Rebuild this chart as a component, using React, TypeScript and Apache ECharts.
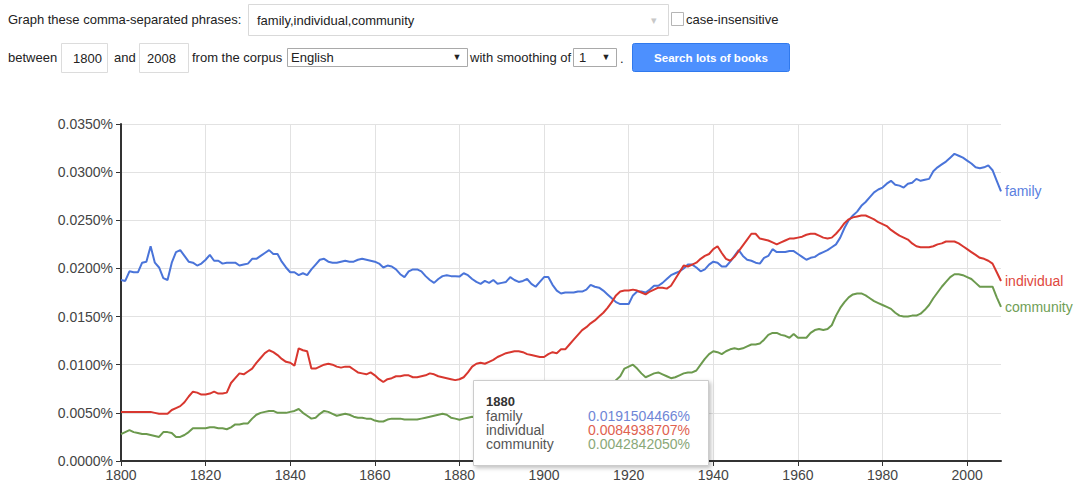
import React, { useEffect, useRef } from "react";
import * as echarts from "echarts";

const START_YEAR = 1800;

// yearly values (percent), 1800..2008
const familyValues = [
  0.0188, 0.0187, 0.0197, 0.0196, 0.0196, 0.0206, 0.0207, 0.0223, 0.0206, 0.0201,
  0.0190, 0.0188, 0.0206, 0.0217, 0.0219, 0.0213, 0.0207, 0.0206, 0.0203, 0.0205,
  0.0209, 0.0214, 0.0208, 0.0208, 0.0205, 0.0206, 0.0206, 0.0206, 0.0203, 0.0204,
  0.0205, 0.0210, 0.0210, 0.0213, 0.0216, 0.0219, 0.0215, 0.0215, 0.0207, 0.0201,
  0.0196, 0.0196, 0.0193, 0.0195, 0.0193, 0.0199, 0.0204, 0.0209, 0.0210, 0.0207,
  0.0206, 0.0206, 0.0207, 0.0208, 0.0207, 0.0207, 0.0209, 0.0210, 0.0209, 0.0208,
  0.0207, 0.0205, 0.0201, 0.0203, 0.0202, 0.0199, 0.0194, 0.0191, 0.0197, 0.0199,
  0.0199, 0.0197, 0.0192, 0.0188, 0.0185, 0.0189, 0.0192, 0.0193, 0.0192, 0.0192,
  0.01915, 0.0195, 0.0193, 0.0189, 0.0186, 0.0184, 0.0187, 0.0185, 0.0188, 0.0184,
  0.0185, 0.0186, 0.0191, 0.0188, 0.0186, 0.0187, 0.0189, 0.0184, 0.0181, 0.0186,
  0.0191, 0.0191, 0.0183, 0.0177, 0.0174, 0.0175, 0.0175, 0.0175, 0.0176, 0.0176,
  0.0178, 0.0183, 0.0181, 0.0180, 0.0177, 0.0173, 0.0169, 0.0165, 0.0163, 0.0163,
  0.0163, 0.0172, 0.0176, 0.0176, 0.0175, 0.0178, 0.0182, 0.0182, 0.0185, 0.0189,
  0.0193, 0.0195, 0.0197, 0.0200, 0.0204, 0.0204, 0.0201, 0.0197, 0.0199, 0.0204,
  0.0207, 0.0206, 0.0202, 0.0202, 0.0207, 0.0213, 0.0219, 0.0213, 0.0209, 0.0208,
  0.0206, 0.0205, 0.0211, 0.0213, 0.0220, 0.0217, 0.0217, 0.0217, 0.0218, 0.0218,
  0.0215, 0.0212, 0.0209, 0.0211, 0.0212, 0.0215, 0.0217, 0.0219, 0.0222, 0.0225,
  0.0232, 0.0242, 0.0250, 0.0255, 0.0259, 0.0265, 0.0269, 0.0274, 0.0279, 0.0282,
  0.0284, 0.0288, 0.0291, 0.0287, 0.0286, 0.0284, 0.0288, 0.0289, 0.0293, 0.0291,
  0.0292, 0.0293, 0.0301, 0.0305, 0.0308, 0.0311, 0.0315, 0.0319, 0.0317, 0.0315,
  0.0312, 0.0309, 0.0305, 0.0304, 0.0305, 0.0307, 0.0302, 0.0291, 0.0280,
];

const individualValues = [
  0.0051, 0.0051, 0.0051, 0.0051, 0.0051, 0.0051, 0.0051, 0.0051, 0.0050, 0.0049,
  0.0049, 0.0049, 0.0053, 0.0055, 0.0057, 0.0061, 0.0067, 0.0072, 0.0071, 0.0069,
  0.0069, 0.0070, 0.0072, 0.0070, 0.0070, 0.0071, 0.0081, 0.0086, 0.0091, 0.0090,
  0.0093, 0.0096, 0.0102, 0.0107, 0.0112, 0.0115, 0.0113, 0.0110, 0.0106, 0.0103,
  0.0102, 0.0099, 0.0117, 0.0115, 0.0114, 0.0096, 0.0096, 0.0098, 0.0100, 0.0101,
  0.0100, 0.0098, 0.0097, 0.0098, 0.0098, 0.0095, 0.0092, 0.0091, 0.0090, 0.0092,
  0.0089, 0.0085, 0.0082, 0.0085, 0.0086, 0.0088, 0.0088, 0.0089, 0.0089, 0.0087,
  0.0087, 0.0088, 0.0089, 0.0091, 0.0090, 0.0088, 0.0087, 0.0086, 0.0085, 0.0084,
  0.00849, 0.0087, 0.0092, 0.0098, 0.0101, 0.0102, 0.0101, 0.0103, 0.0105, 0.0108,
  0.0110, 0.0112, 0.0113, 0.0114, 0.0114, 0.0113, 0.0111, 0.0110, 0.0109, 0.0108,
  0.0108, 0.0111, 0.0113, 0.0112, 0.0116, 0.0116, 0.0121, 0.0126, 0.0131, 0.0136,
  0.0139, 0.0143, 0.0146, 0.0150, 0.0154, 0.0159, 0.0165, 0.0172, 0.0176, 0.0177,
  0.0177, 0.0178, 0.0177, 0.0175, 0.0173, 0.0176, 0.0178, 0.0180, 0.0180, 0.0179,
  0.0182, 0.0189, 0.0196, 0.0203, 0.0202, 0.0204, 0.0206, 0.0210, 0.0213, 0.0215,
  0.0220, 0.0223, 0.0216, 0.0210, 0.0208, 0.0212, 0.0218, 0.0224, 0.0230, 0.0236,
  0.0236, 0.0231, 0.0230, 0.0229, 0.0227, 0.0225, 0.0227, 0.0229, 0.0231, 0.0231,
  0.0232, 0.0233, 0.0235, 0.0236, 0.0236, 0.0234, 0.0232, 0.0231, 0.0232, 0.0236,
  0.0241, 0.0247, 0.0251, 0.0253, 0.0254, 0.0255, 0.0255, 0.0253, 0.0251, 0.0248,
  0.0246, 0.0244, 0.0240, 0.0237, 0.0234, 0.0232, 0.0230, 0.0226, 0.0223, 0.0222,
  0.0222, 0.0222, 0.0223, 0.0225, 0.0226, 0.0228, 0.0228, 0.0228, 0.0226, 0.0223,
  0.0220, 0.0217, 0.0214, 0.0211, 0.0210, 0.0208, 0.0205, 0.0196, 0.0187,
];

const communityValues = [
  0.0028, 0.0030, 0.0032, 0.0030, 0.0029, 0.0028, 0.0028, 0.0027, 0.0026, 0.0025,
  0.0030, 0.0030, 0.0029, 0.0025, 0.0025, 0.0027, 0.0030, 0.0034, 0.0034, 0.0034,
  0.0034, 0.0035, 0.0035, 0.0034, 0.0034, 0.0033, 0.0035, 0.0038, 0.0038, 0.0039,
  0.0039, 0.0044, 0.0048, 0.0050, 0.0051, 0.0052, 0.0052, 0.0050, 0.0050, 0.0050,
  0.0051, 0.0052, 0.0054, 0.0050, 0.0047, 0.0044, 0.0045, 0.0049, 0.0052, 0.0051,
  0.0049, 0.0047, 0.0048, 0.0049, 0.0048, 0.0046, 0.0045, 0.0045, 0.0044, 0.0044,
  0.0042, 0.0041, 0.0041, 0.0043, 0.0044, 0.0044, 0.0044, 0.0043, 0.0043, 0.0043,
  0.0043, 0.0044, 0.0045, 0.0046, 0.0047, 0.0048, 0.0049, 0.0048, 0.0045, 0.0044,
  0.00428, 0.0044, 0.0045, 0.0046, 0.0045, 0.0047, 0.0046, 0.0048, 0.0047, 0.0049,
  0.0048, 0.0050, 0.0049, 0.0051, 0.0050, 0.0052, 0.0051, 0.0053, 0.0052, 0.0054,
  0.0053, 0.0055, 0.0056, 0.0055, 0.0058, 0.0060, 0.0059, 0.0062, 0.0064, 0.0063,
  0.0066, 0.0068, 0.0067, 0.0071, 0.0074, 0.0076, 0.0079, 0.0084, 0.0088, 0.0096,
  0.0098, 0.0100, 0.0096, 0.0091, 0.0087, 0.0089, 0.0091, 0.0092, 0.0090, 0.0088,
  0.0086, 0.0087, 0.0089, 0.0091, 0.0092, 0.0092, 0.0094, 0.0100, 0.0106, 0.0111,
  0.0114, 0.0113, 0.0111, 0.0114, 0.0116, 0.0117, 0.0116, 0.0117, 0.0119, 0.0121,
  0.0121, 0.0122, 0.0126, 0.0131, 0.0133, 0.0133, 0.0131, 0.0130, 0.0128, 0.0132,
  0.0128, 0.0128, 0.0128, 0.0133, 0.0136, 0.0137, 0.0136, 0.0137, 0.0141, 0.0151,
  0.0159, 0.0165, 0.0170, 0.0173, 0.0174, 0.0174, 0.0172, 0.0169, 0.0166, 0.0164,
  0.0162, 0.0160, 0.0158, 0.0154, 0.0151, 0.0150, 0.0150, 0.0151, 0.0151, 0.0153,
  0.0157, 0.0162, 0.0169, 0.0175, 0.0181, 0.0186, 0.0191, 0.0194, 0.0194, 0.0193,
  0.0191, 0.0189, 0.0185, 0.0181, 0.0181, 0.0181, 0.0181, 0.0170, 0.0160,
];

const seriesNames = ["family", "individual", "community"];
const tooltipYear = "1880";
const tooltipValues = ["0.0191504466%", "0.0084938707%", "0.0042842050%"];

const FONT = '"Liberation Sans", Arial, Helvetica, sans-serif';
const LINE_COLORS = ["#4a74d9", "#d8372f", "#6c9a4e"];
const LABEL_COLORS = ["#5a80e0", "#e0473d", "#6f9e55"];
const TIP_COLORS = ["#6f86d6", "#e0614f", "#8aa878"];

function txt(text: string, x: number, y: number, o: any = {}) {
  return {
    type: "text",
    x,
    y,
    z: o.z ?? 200,
    style: {
      text,
      fill: o.fill ?? "#222",
      font: `${o.weight ?? "normal"} ${o.size ?? 13}px ${FONT}`,
      textAlign: o.align ?? "left",
      textVerticalAlign: "middle",
      align: o.align ?? "left",
      verticalAlign: "middle",
    },
  };
}

function box(x: number, y: number, w: number, h: number, o: any = {}) {
  return {
    type: "rect",
    z: o.z ?? 150,
    shape: { x: x + 0.5, y: y + 0.5, width: w, height: h, r: o.r ?? 0 },
    style: {
      fill: o.fill ?? "#fff",
      stroke: o.stroke ?? "#d9d9d9",
      lineWidth: 1,
      shadowBlur: o.shadowBlur ?? 0,
      shadowOffsetX: o.shadowOffsetX ?? 0,
      shadowOffsetY: o.shadowOffsetY ?? 0,
      shadowColor: o.shadowColor ?? "transparent",
    },
  };
}

export default function App() {
  const ref = useRef<HTMLDivElement>(null);

  useEffect(() => {
    if (!ref.current) return;
    const chart = echarts.init(ref.current, null, { renderer: "svg" });
    const allValues = [familyValues, individualValues, communityValues];

    const header = [
      txt("Graph these comma-separated phrases:", 8, 19),
      box(248, 4, 420, 31, { stroke: "#d9d9d9" }),
      txt("family,individual,community", 257, 20),
      txt("▾", 651, 20, { fill: "#c8c8c8", size: 11 }),
      box(671, 12, 12, 13, { stroke: "#b5b5b5" }),
      txt("case-insensitive", 686, 19),
      txt("between", 8, 57),
      box(61, 43, 46, 29, { stroke: "#dcdcdc" }),
      txt("1800", 73, 58),
      txt("and", 114, 57),
      box(139, 43, 49, 29, { stroke: "#dcdcdc" }),
      txt("2008", 147, 58),
      txt("from the corpus", 192, 57),
      box(287, 48, 180, 18, { stroke: "#a9a9a9" }),
      txt("English", 291, 57),
      txt("▼", 457, 57, { size: 9, fill: "#222", align: "center" }),
      txt("with smoothing of", 470, 57),
      box(573, 48, 43, 18, { stroke: "#a9a9a9" }),
      txt("1", 579, 57),
      txt("▼", 606, 57, { size: 9, fill: "#222", align: "center" }),
      txt(".", 620, 58),
      box(632, 43, 157, 28, { fill: "#4d90fe", stroke: "#3079ed", r: 2 }),
      txt("Search lots of books", 711, 57, { fill: "#fff", weight: "bold", size: 11.6, align: "center" }),
    ];

    const tipX = 473;
    const tipY = 380;
    const tip: any[] = [
      box(tipX, tipY, 235, 85, {
        z: 300,
        stroke: "#cccccc",
        shadowBlur: 4,
        shadowOffsetX: 2,
        shadowOffsetY: 2,
        shadowColor: "rgba(0,0,0,0.25)",
      }),
      txt(tooltipYear, 486, 401, { weight: "bold", fill: "#333", z: 301, size: 13 }),
    ];
    seriesNames.forEach((n, i) => {
      tip.push(txt(n, 486, 416 + i * 14, { fill: "#555", z: 301, size: 14 }));
      tip.push(txt(tooltipValues[i], 690, 416 + i * 14, { fill: TIP_COLORS[i], z: 301, align: "right", size: 14 }));
    });

    chart.setOption({
      animation: false,
      backgroundColor: "#ffffff",
      textStyle: { fontFamily: FONT },
      grid: { left: 121, right: 74, top: 124, bottom: 18, containLabel: false },
      xAxis: {
        type: "value",
        min: 1800,
        max: 2008,
        interval: 20,
        axisLine: { show: true, onZero: false, lineStyle: { color: "#333", width: 2 } },
        axisTick: { show: true, length: 5, lineStyle: { color: "#333", width: 1 } },
        axisLabel: {
          color: "#444",
          fontSize: 14,
          fontFamily: FONT,
          margin: 7,
          showMaxLabel: false,
          formatter: (v: number) => String(v),
        },
        splitLine: { show: true, showMinLine: false, showMaxLine: false, lineStyle: { color: "#e2e2e2", width: 1 } },
      },
      yAxis: {
        type: "value",
        min: 0,
        max: 0.035,
        interval: 0.005,
        axisLine: { show: true, lineStyle: { color: "#333", width: 2 } },
        axisTick: { show: true, length: 5, lineStyle: { color: "#333", width: 1 } },
        axisLabel: {
          color: "#444",
          fontSize: 14,
          fontFamily: FONT,
          margin: 8,
          formatter: (v: number) => v.toFixed(4) + "%",
        },
        splitLine: { show: true, showMinLine: false, lineStyle: { color: "#e2e2e2", width: 1 } },
      },
      series: seriesNames.map((name, i) => ({
        name,
        type: "line",
        data: allValues[i].map((v, k) => [START_YEAR + k, v]),
        showSymbol: false,
        symbol: "none",
        smooth: false,
        lineStyle: { color: LINE_COLORS[i], width: 2 },
        itemStyle: { color: LINE_COLORS[i] },
        endLabel: {
          show: true,
          formatter: "{a}",
          color: LABEL_COLORS[i],
          fontSize: 14,
          fontFamily: FONT,
          distance: 4,
        },
        z: 2,
      })),
      graphic: [...header, ...tip],
    });

    return () => chart.dispose();
  }, []);

  return (
    <div
      ref={ref}
      style={{ position: "absolute", left: 0, top: 0, width: 1075, height: 482 }}
    />
  );
}
